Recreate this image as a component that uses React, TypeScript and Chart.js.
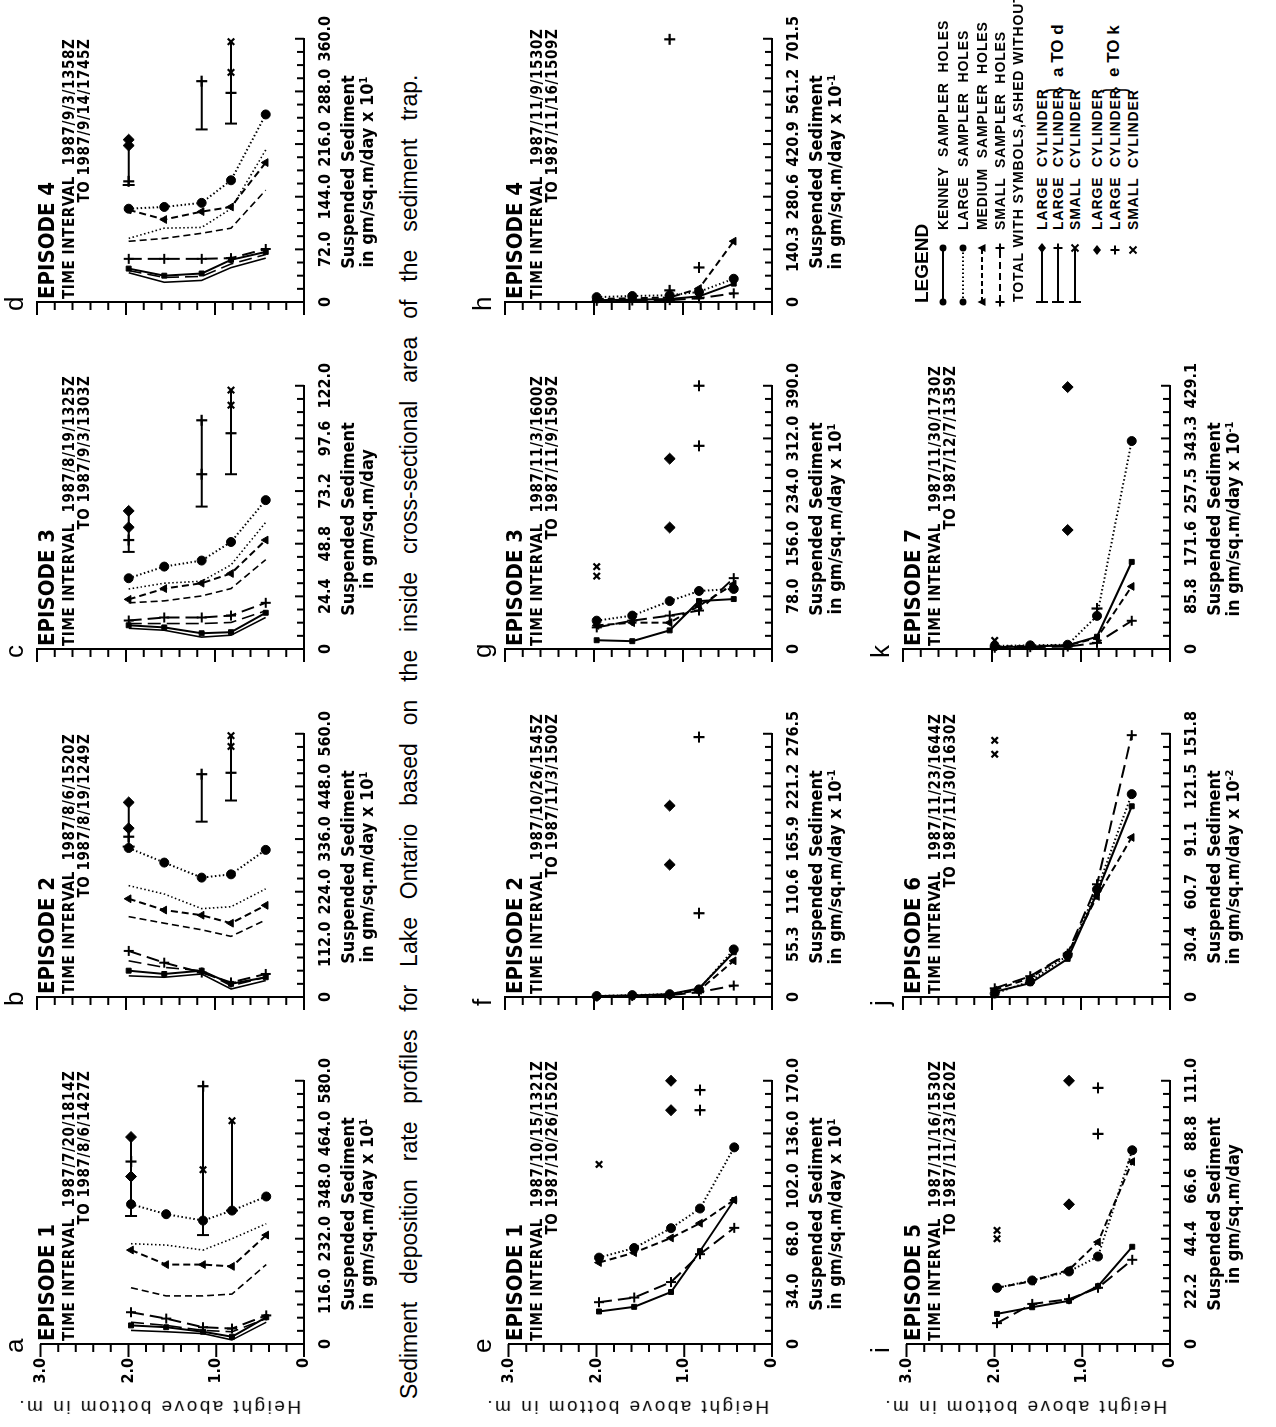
import React, { useEffect, useRef } from "react";
import { Chart, registerables } from "chart.js";
Chart.register(...registerables);

const NARROW = '"Liberation Sans Narrow", "Arial Narrow", "DejaVu Sans Condensed", "Liberation Sans", Arial, sans-serif';
const SANS = '"Liberation Sans", Arial, Helvetica, sans-serif';

// ---------- shared data ----------
const HEIGHTS = [1.97, 1.57, 1.15, 0.82, 0.43];
const HEIGHT_TICKS = [0, 1, 2, 3];
const HEIGHT_TICK_LABELS = ["0", "1.0", "2.0", "3.0"];

// ---------- panel a ----------
const aMax = 580;
const aTickLabels = ["0", "116.0", "232.0", "348.0", "464.0", "580.0"];
const aKenney = [41, 37, 27, 16, 59];
const aKenneyAshed = [30, 27, 23, 9, 48];
const aLarge = [308, 286, 272, 294, 325];
const aLargeAshed = [221, 218, 207, 232, 265];
const aMedium = [207, 175, 175, 171, 240];
const aMediumAshed = [124, 106, 106, 110, 175];
const aSmall = [70, 56, 37, 34, 63];
const aSmallAshed = [48, 41, 30, 27, 56];
const aBarH = [1.97, 1.15, 0.82];
const aBarLow = [282, 240, 294];
const aBarHigh = [456, 568, 492];
const aDiamondH = [1.97, 1.97];
const aDiamondV = [456, 369];
const aPlusH = [1.97, 1.15];
const aPlusV = [402, 568];
const aCrossH = [1.15, 0.82];
const aCrossV = [384, 492];

// ---------- panel b ----------
const bMax = 560;
const bTickLabels = ["0", "112.0", "224.0", "336.0", "448.0", "560.0"];
const bKenney = [56, 49, 56, 28, 42];
const bKenneyAshed = [45, 42, 49, 17, 35];
const bLarge = [317, 286, 254, 261, 313];
const bLargeAshed = [237, 219, 188, 192, 230];
const bMedium = [209, 185, 174, 157, 195];
const bMediumAshed = [171, 157, 143, 129, 164];
const bSmall = [98, 73, 52, 31, 49];
const bSmallAshed = [77, 63, 56, 24, 42];
const bBarH = [1.97, 1.15, 0.82];
const bBarLow = [320, 373, 418];
const bBarHigh = [414, 474, 556];
const bDiamondH = [1.97, 1.97];
const bDiamondV = [414, 359];
const bPlusH = [1.97, 1.15, 0.82];
const bPlusV = [341, 474, 477];
const bCrossH = [0.82, 0.82];
const bCrossV = [556, 533];

// ---------- panel c ----------
const cMax = 122;
const cTickLabels = ["0", "24.4", "48.8", "73.2", "97.6", "122.0"];
const cKenney = [11, 10, 7.3, 7.8, 16.8];
const cKenneyAshed = [9.6, 8.7, 5.5, 6.4, 14.6];
const cLarge = [32.8, 38.2, 41, 49.6, 69];
const cLargeAshed = [27.8, 30.5, 31.4, 39, 58.7];
const cMedium = [23, 28, 30.5, 35, 50.5];
const cMediumAshed = [21.4, 22.3, 24.6, 28, 41.4];
const cSmall = [13.2, 14.6, 14.6, 15.5, 21.4];
const cSmallAshed = [11.8, 11.8, 11.8, 12.3, 17.7];
const cBarH = [1.97, 1.15, 0.82];
const cBarLow = [45, 66, 81];
const cBarHigh = [64, 106, 120];
const cDiamondH = [1.97, 1.97];
const cDiamondV = [64, 56.4];
const cPlusH = [1.97, 1.15, 1.15, 0.82];
const cPlusV = [50.5, 106, 81, 100];
const cCrossH = [0.82, 0.82];
const cCrossV = [120, 113];

// ---------- panel d ----------
const dMax = 360;
const dTickLabels = ["0", "72.0", "144.0", "216.0", "288.0", "360.0"];
const dKenney = [45.7, 36, 39, 57.7, 68.5];
const dKenneyAshed = [40, 27, 29.5, 47, 60];
const dLarge = [127.6, 130, 135.6, 166.5, 256.5];
const dLargeAshed = [87, 101, 102, 127.6, 208];
const dMedium = [126, 112.8, 123.6, 130, 190.7];
const dMediumAshed = [83, 87, 94, 101, 153];
const dSmall = [59, 59, 59, 60, 72.5];
const dSmallAshed = [43, 33.6, 35, 52, 65];
const dBarH = [1.97, 1.15, 0.82];
const dBarLow = [160, 236, 244];
const dBarHigh = [222, 302, 356];
const dDiamondH = [1.97, 1.97];
const dDiamondV = [222, 214];
const dPlusH = [1.97, 1.15, 0.82];
const dPlusV = [165, 302, 286];
const dCrossH = [0.82, 0.82];
const dCrossV = [356, 314];

// ---------- panel e ----------
const eMax = 170;
const eTickLabels = ["0", "34.0", "68.0", "102.0", "136.0", "170.0"];
const eKenney = [21, 24, 33.6, 60, 93];
const eLarge = [55.8, 62, 74.8, 87.5, 127];
const eMedium = [52.6, 59, 68.5, 78, 93];
const eSmall = [27, 30, 40, 58, 75];
const eDiamondH = [1.15, 1.15];
const eDiamondV = [151, 170];
const ePlusH = [0.82, 0.82];
const ePlusV = [164, 151];
const eCrossH = [1.97];
const eCrossV = [116];

// ---------- panel f ----------
const fMax = 276.5;
const fTickLabels = ["0", "55.3", "110.6", "165.9", "221.2", "276.5"];
const fKenney = [1, 1.5, 3, 9, 47];
const fLarge = [1, 2, 3, 8, 50];
const fMedium = [1, 1.5, 2.5, 7, 38];
const fSmall = [0.5, 1, 2, 5, 12];
const fDiamondH = [1.15, 1.15];
const fDiamondV = [139, 201];
const fPlusH = [0.82, 0.82];
const fPlusV = [88, 273];
const fCrossH: number[] = [];
const fCrossV: number[] = [];

// ---------- panel g ----------
const gMax = 390;
const gTickLabels = ["0", "78.0", "156.0", "234.0", "312.0", "390.0"];
const gKenney = [13, 11.6, 27.6, 71, 74];
const gLarge = [42, 49.5, 71, 86, 89];
const gMedium = [35, 39, 39, 64, 96];
const gSmall = [32, 42, 49.5, 57, 105];
const gDiamondH = [1.15, 1.15];
const gDiamondV = [180, 282];
const gPlusH = [0.82, 0.82];
const gPlusV = [301, 390];
const gCrossH = [1.97, 1.97];
const gCrossV = [122, 108];

// ---------- panel h ----------
const hMax = 701.5;
const hTickLabels = ["0", "140.3", "280.6", "420.9", "561.2", "701.5"];
const hKenney = [5, 6, 8, 15, 49];
const hLarge = [13, 16, 18, 27, 62];
const hMedium = [8, 10, 12, 36, 162];
const hSmall = [3, 4, 5, 10, 23];
const hDiamondH: number[] = [];
const hDiamondV: number[] = [];
const hPlusH = [1.15, 1.15, 0.82];
const hPlusV = [700, 31, 92];
const hCrossH: number[] = [];
const hCrossV: number[] = [];

// ---------- panel i ----------
const iMax = 111;
const iTickLabels = ["0", "22.2", "44.4", "66.6", "88.8", "111.0"];
const iKenney = [12.7, 15.5, 18.2, 24.4, 41];
const iLarge = [23.7, 26.8, 30.6, 36.9, 81.7];
const iMedium = [23.7, 26.5, 31.3, 43, 76.9];
const iSmall = [8.8, 16.9, 18.9, 23.7, 35.5];
const iDiamondH = [1.15, 1.15];
const iDiamondV = [58.9, 111];
const iPlusH = [0.82, 0.82];
const iPlusV = [88.6, 108];
const iCrossH = [1.97, 1.97];
const iCrossV = [47.9, 44.4];

// ---------- panel j ----------
const jMax = 151.8;
const jTickLabels = ["0", "30.4", "60.7", "91.1", "121.5", "151.8"];
const jKenney = [3, 8, 22, 60, 110];
const jLarge = [2, 9, 24, 62, 117];
const jMedium = [4, 11, 25, 58, 92];
const jSmall = [5, 12, 25, 65, 151];
const jDiamondH: number[] = [];
const jDiamondV: number[] = [];
const jPlusH: number[] = [];
const jPlusV: number[] = [];
const jCrossH = [1.97, 1.97];
const jCrossV = [148, 140];

// ---------- panel k ----------
const kMax = 429.1;
const kTickLabels = ["0", "85.8", "171.6", "257.5", "343.3", "429.1"];
const kKenney = [3, 4, 6, 20, 142];
const kLarge = [5, 6, 7, 54, 339];
const kMedium = [4, 5, 6, 18, 102];
const kSmall = [2, 3, 4, 10, 46];
const kDiamondH = [1.15, 1.15];
const kDiamondV = [194, 427];
const kPlusH = [0.82];
const kPlusV = [66];
const kCrossH = [1.97];
const kCrossV = [14];

// ---------- layout (original landscape orientation) ----------
const ROW_X0 = [83, 430, 778, 1125];
const COL_Y0 = [37, 505, 903];
const PLOT_W = 268;
const PLOT_H = 267;
const AX_W = 70;
const AX_H = 80;
const PAD_T = 20;
const PAD_R = 30;
const CW = AX_W + PLOT_W + PAD_R;
const CH = PAD_T + PLOT_H + AX_H;

type Kind = "kenney" | "large" | "medium" | "small";
type Series = { kind: Kind; values: number[]; ashed?: boolean };
type Marks = { h: number[]; v: number[] };
type PanelCfg = {
  letter: string; episode: string; from: string; to: string; unit: string;
  max: number; tickLabels: string[]; col: number; row: number;
  lines: Series[];
  bars: { h: number[]; low: number[]; high: number[] } | null;
  diamonds: Marks; plus: Marks; cross: Marks;
};

const withAshed = (k: number[], ka: number[], l: number[], la: number[], m: number[], ma: number[], s: number[], sa: number[]): Series[] => [
  { kind: "large", values: l }, { kind: "large", values: la, ashed: true },
  { kind: "medium", values: m }, { kind: "medium", values: ma, ashed: true },
  { kind: "small", values: s }, { kind: "small", values: sa, ashed: true },
  { kind: "kenney", values: k }, { kind: "kenney", values: ka, ashed: true },
];
const totals = (k: number[], l: number[], m: number[], s: number[]): Series[] => [
  { kind: "large", values: l }, { kind: "medium", values: m },
  { kind: "small", values: s }, { kind: "kenney", values: k },
];

const PANELS: PanelCfg[] = [
  { letter: "a", episode: "EPISODE 1", from: "1987/7/20/1814Z", to: "1987/8/6/1427Z", unit: "1", max: aMax, tickLabels: aTickLabels, col: 0, row: 0,
    lines: withAshed(aKenney, aKenneyAshed, aLarge, aLargeAshed, aMedium, aMediumAshed, aSmall, aSmallAshed),
    bars: { h: aBarH, low: aBarLow, high: aBarHigh }, diamonds: { h: aDiamondH, v: aDiamondV }, plus: { h: aPlusH, v: aPlusV }, cross: { h: aCrossH, v: aCrossV } },
  { letter: "b", episode: "EPISODE 2", from: "1987/8/6/1520Z", to: "1987/8/19/1249Z", unit: "1", max: bMax, tickLabels: bTickLabels, col: 0, row: 1,
    lines: withAshed(bKenney, bKenneyAshed, bLarge, bLargeAshed, bMedium, bMediumAshed, bSmall, bSmallAshed),
    bars: { h: bBarH, low: bBarLow, high: bBarHigh }, diamonds: { h: bDiamondH, v: bDiamondV }, plus: { h: bPlusH, v: bPlusV }, cross: { h: bCrossH, v: bCrossV } },
  { letter: "c", episode: "EPISODE 3", from: "1987/8/19/1325Z", to: "1987/9/3/1303Z", unit: "", max: cMax, tickLabels: cTickLabels, col: 0, row: 2,
    lines: withAshed(cKenney, cKenneyAshed, cLarge, cLargeAshed, cMedium, cMediumAshed, cSmall, cSmallAshed),
    bars: { h: cBarH, low: cBarLow, high: cBarHigh }, diamonds: { h: cDiamondH, v: cDiamondV }, plus: { h: cPlusH, v: cPlusV }, cross: { h: cCrossH, v: cCrossV } },
  { letter: "d", episode: "EPISODE 4", from: "1987/9/3/1358Z", to: "1987/9/14/1745Z", unit: "1", max: dMax, tickLabels: dTickLabels, col: 0, row: 3,
    lines: withAshed(dKenney, dKenneyAshed, dLarge, dLargeAshed, dMedium, dMediumAshed, dSmall, dSmallAshed),
    bars: { h: dBarH, low: dBarLow, high: dBarHigh }, diamonds: { h: dDiamondH, v: dDiamondV }, plus: { h: dPlusH, v: dPlusV }, cross: { h: dCrossH, v: dCrossV } },
  { letter: "e", episode: "EPISODE 1", from: "1987/10/15/1321Z", to: "1987/10/26/1520Z", unit: "1", max: eMax, tickLabels: eTickLabels, col: 1, row: 0,
    lines: totals(eKenney, eLarge, eMedium, eSmall), bars: null,
    diamonds: { h: eDiamondH, v: eDiamondV }, plus: { h: ePlusH, v: ePlusV }, cross: { h: eCrossH, v: eCrossV } },
  { letter: "f", episode: "EPISODE 2", from: "1987/10/26/1545Z", to: "1987/11/3/1500Z", unit: "-1", max: fMax, tickLabels: fTickLabels, col: 1, row: 1,
    lines: totals(fKenney, fLarge, fMedium, fSmall), bars: null,
    diamonds: { h: fDiamondH, v: fDiamondV }, plus: { h: fPlusH, v: fPlusV }, cross: { h: fCrossH, v: fCrossV } },
  { letter: "g", episode: "EPISODE 3", from: "1987/11/3/1600Z", to: "1987/11/9/1509Z", unit: "1", max: gMax, tickLabels: gTickLabels, col: 1, row: 2,
    lines: totals(gKenney, gLarge, gMedium, gSmall), bars: null,
    diamonds: { h: gDiamondH, v: gDiamondV }, plus: { h: gPlusH, v: gPlusV }, cross: { h: gCrossH, v: gCrossV } },
  { letter: "h", episode: "EPISODE 4", from: "1987/11/9/1530Z", to: "1987/11/16/1509Z", unit: "-1", max: hMax, tickLabels: hTickLabels, col: 1, row: 3,
    lines: totals(hKenney, hLarge, hMedium, hSmall), bars: null,
    diamonds: { h: hDiamondH, v: hDiamondV }, plus: { h: hPlusH, v: hPlusV }, cross: { h: hCrossH, v: hCrossV } },
  { letter: "i", episode: "EPISODE 5", from: "1987/11/16/1530Z", to: "1987/11/23/1620Z", unit: "", max: iMax, tickLabels: iTickLabels, col: 2, row: 0,
    lines: totals(iKenney, iLarge, iMedium, iSmall), bars: null,
    diamonds: { h: iDiamondH, v: iDiamondV }, plus: { h: iPlusH, v: iPlusV }, cross: { h: iCrossH, v: iCrossV } },
  { letter: "j", episode: "EPISODE 6", from: "1987/11/23/1644Z", to: "1987/11/30/1630Z", unit: "-2", max: jMax, tickLabels: jTickLabels, col: 2, row: 1,
    lines: totals(jKenney, jLarge, jMedium, jSmall), bars: null,
    diamonds: { h: jDiamondH, v: jDiamondV }, plus: { h: jPlusH, v: jPlusV }, cross: { h: jCrossH, v: jCrossV } },
  { letter: "k", episode: "EPISODE 7", from: "1987/11/30/1730Z", to: "1987/12/7/1359Z", unit: "-1", max: kMax, tickLabels: kTickLabels, col: 2, row: 2,
    lines: totals(kKenney, kLarge, kMedium, kSmall), bars: null,
    diamonds: { h: kDiamondH, v: kDiamondV }, plus: { h: kPlusH, v: kPlusV }, cross: { h: kCrossH, v: kCrossV } },
];

const STYLE: Record<Kind, { dash: number[]; point: string; radius: number }> = {
  kenney: { dash: [], point: "rect", radius: 3.5 },
  large: { dash: [1.5, 2.5], point: "circle", radius: 4.5 },
  medium: { dash: [7, 4], point: "triangle", radius: 4.5 },
  small: { dash: [13, 6], point: "cross", radius: 5 },
};

const tickPlugin = {
  id: "handTicks",
  afterDraw(chart: any) {
    const { ctx, chartArea } = chart;
    const xs = chart.scales.x;
    const ys = chart.scales.y;
    ctx.save();
    ctx.strokeStyle = "#000";
    ctx.lineWidth = 2;
    ctx.beginPath();
    for (let i = 0; i <= 20; i++) {
      const px = xs.getPixelForValue((xs.max * i) / 20);
      const len = i % 4 === 0 ? 9 : 7;
      ctx.moveTo(px, chartArea.bottom);
      ctx.lineTo(px, chartArea.bottom - len);
    }
    for (let i = 0; i <= 15; i++) {
      const py = ys.getPixelForValue(i * 0.2);
      const len = i % 5 === 0 ? 13 : 8;
      ctx.moveTo(chartArea.left, py);
      ctx.lineTo(chartArea.left - len, py);
    }
    ctx.stroke();
    ctx.restore();
  },
};

function buildDatasets(cfg: PanelCfg) {
  const ds: any[] = [];
  for (const s of cfg.lines) {
    const st = STYLE[s.kind];
    ds.push({
      data: s.values.map((v, i) => ({ x: v, y: HEIGHTS[i] })),
      showLine: true,
      borderColor: "#000",
      backgroundColor: "#000",
      borderWidth: s.ashed ? 1.6 : 2,
      borderDash: st.dash,
      pointStyle: st.point,
      pointRadius: s.ashed ? 0 : st.radius,
      pointBorderWidth: s.kind === "small" ? 2 : 1,
      pointBackgroundColor: "#000",
      pointBorderColor: "#000",
      clip: false,
    });
  }
  if (cfg.bars) {
    cfg.bars.h.forEach((h, i) => {
      ds.push({
        data: [{ x: cfg.bars!.low[i], y: h }, { x: cfg.bars!.high[i], y: h }],
        showLine: true,
        borderColor: "#000",
        borderWidth: 2,
        pointStyle: "line",
        pointRotation: 90,
        pointRadius: [6, 0],
        pointBorderWidth: 2,
        pointBorderColor: "#000",
        clip: false,
      });
    });
  }
  const marks = (m: Marks, style: string, r: number, bw: number) => ({
    data: m.h.map((h, i) => ({ x: m.v[i], y: h })),
    showLine: false,
    pointStyle: style,
    pointRadius: r,
    pointBorderWidth: bw,
    pointBackgroundColor: "#000",
    pointBorderColor: "#000",
    clip: false,
  });
  ds.push(marks(cfg.diamonds, "rectRot", 5.5, 1));
  ds.push(marks(cfg.plus, "cross", 5.5, 2.2));
  ds.push(marks(cfg.cross, "crossRot", 4.5, 2.2));
  return ds;
}

function PanelChart({ cfg }: { cfg: PanelCfg }) {
  const ref = useRef<HTMLCanvasElement>(null);
  useEffect(() => {
    if (!ref.current) return;
    const chart = new Chart(ref.current, {
      type: "scatter",
      data: { datasets: buildDatasets(cfg) },
      options: {
        animation: false,
        responsive: false,
        devicePixelRatio: 1,
        events: [],
        layout: { padding: { top: PAD_T, right: PAD_R, left: 0, bottom: 0 } },
        plugins: { legend: { display: false }, tooltip: { enabled: false } },
        scales: {
          x: {
            type: "linear",
            position: "bottom",
            min: 0,
            max: cfg.max,
            afterFit: (s: any) => { s.height = AX_H; },
            afterBuildTicks: (s: any) => { s.ticks = cfg.tickLabels.map((_, i) => ({ value: (cfg.max * i) / 5 })); },
            ticks: {
              autoSkip: false, maxRotation: 0, minRotation: 0, padding: 12, color: "#000",
              font: { family: NARROW, size: 16, weight: "bold" },
              callback: (_v: any, i: number) => cfg.tickLabels[i],
            },
            grid: { display: false, drawTicks: false },
            border: { display: true, color: "#000", width: 2 },
          },
          y: {
            type: "linear",
            min: 0,
            max: 3,
            afterFit: (s: any) => { s.width = AX_W; },
            afterBuildTicks: (s: any) => { s.ticks = HEIGHT_TICKS.map((v) => ({ value: v })); },
            ticks: {
              display: cfg.row === 0,
              padding: 14, color: "#000",
              font: { family: NARROW, size: 16, weight: "bold" },
              callback: (_v: any, i: number) => HEIGHT_TICK_LABELS[i],
            },
            grid: { display: false, drawTicks: false },
            border: { display: true, color: "#000", width: 2 },
          },
        },
      } as any,
      plugins: [tickPlugin as any],
    });
    return () => chart.destroy();
  }, [cfg]);
  const x0 = ROW_X0[cfg.row];
  const y0 = COL_Y0[cfg.col];
  return (
    <>
      <canvas ref={ref} width={CW} height={CH}
        style={{ position: "absolute", left: x0 - AX_W, top: y0 - PAD_T, width: CW, height: CH }} />
      <div style={{ position: "absolute", left: x0 - 9, top: y0 - 38, font: `26px ${SANS}`, lineHeight: "30px" }}>{cfg.letter}</div>
      <div style={{ position: "absolute", left: x0 + 3, top: y0 - 1, font: `bold 22px ${NARROW}`, lineHeight: "22px", whiteSpace: "nowrap" }}>{cfg.episode}</div>
      <div style={{ position: "absolute", left: x0 + 3, top: y0 + 25, font: `bold 15px ${NARROW}`, letterSpacing: "0.6px", lineHeight: "15px", whiteSpace: "nowrap", textAlign: "right" }}>
        <div>TIME INTERVAL&nbsp;&nbsp;{cfg.from}</div>
        <div>TO&nbsp;{cfg.to}</div>
      </div>
      <div style={{ position: "absolute", left: x0 + 130 - 120, width: 240, top: y0 + PLOT_H + 34, font: `bold 18px ${NARROW}`, lineHeight: "19px", textAlign: "center", whiteSpace: "nowrap" }}>
        <div>Suspended Sediment</div>
        <div>in gm/sq.m/day{cfg.unit ? <> x 10<sup style={{ fontSize: 11, verticalAlign: "6px", lineHeight: 0 }}>{cfg.unit}</sup></> : null}</div>
      </div>
      {cfg.row === 0 ? (
        <div style={{ position: "absolute", left: 20, top: y0 + 122, transform: "translate(-50%, -50%) rotate(-90deg)", font: `19px ${SANS}`, letterSpacing: "2.5px", whiteSpace: "nowrap" }}>
          Height above bottom in m.
        </div>
      ) : null}
    </>
  );
}

function LegendSymbol({ kind }: { kind: string }) {
  const w = 62, h = 16, y = 8, x1 = 3, x2 = 57;
  const line = (dash?: string) => <line x1={x1} y1={y} x2={x2} y2={y} stroke="#000" strokeWidth={2} strokeDasharray={dash} />;
  const circle = (cx: number) => <circle cx={cx} cy={y} r={3.5} fill="#000" />;
  const tri = (cx: number) => <polygon points={`${cx - 4},${y + 3.5} ${cx + 4},${y + 3.5} ${cx},${y - 4.5}`} fill="#000" />;
  const plus = (cx: number) => <path d={`M${cx - 4.5} ${y}H${cx + 4.5}M${cx} ${y - 4.5}V${y + 4.5}`} stroke="#000" strokeWidth={2} />;
  const cross = (cx: number) => <path d={`M${cx - 3.5} ${y - 3.5}L${cx + 3.5} ${y + 3.5}M${cx + 3.5} ${y - 3.5}L${cx - 3.5} ${y + 3.5}`} stroke="#000" strokeWidth={2} />;
  const diamond = (cx: number) => <polygon points={`${cx - 5},${y} ${cx},${y - 4} ${cx + 5},${y} ${cx},${y + 4}`} fill="#000" />;
  const cap = <line x1={x1} y1={y - 6} x2={x1} y2={y + 6} stroke="#000" strokeWidth={2} />;
  let body: any = null;
  if (kind === "kenney") body = <>{line()}{circle(x1)}{circle(x2)}</>;
  if (kind === "large") body = <>{line("1.5 2.5")}{circle(x1)}{circle(x2)}</>;
  if (kind === "medium") body = <>{line("5 3")}{tri(x1)}{tri(x2)}</>;
  if (kind === "small") body = <>{line("7 4")}{plus(x1)}{plus(x2)}</>;
  if (kind === "barD") body = <>{line()}{cap}{diamond(x2)}</>;
  if (kind === "barP") body = <>{line()}{cap}{plus(x2)}</>;
  if (kind === "barX") body = <>{line()}{cap}{cross(x2)}</>;
  if (kind === "d") body = diamond(x2 - 2);
  if (kind === "p") body = plus(x2 - 2);
  if (kind === "x") body = cross(x2 - 2);
  return <svg width={w} height={h} style={{ position: "absolute", left: 0, top: -8, overflow: "visible" }}>{body}</svg>;
}

const LEGEND_ROWS = [
  { y: 943, kind: "kenney", text: "KENNEY  SAMPLER  HOLES" },
  { y: 963, kind: "large", text: "LARGE  SAMPLER  HOLES" },
  { y: 982, kind: "medium", text: "MEDIUM  SAMPLER  HOLES" },
  { y: 1000, kind: "small", text: "SMALL  SAMPLER  HOLES" },
  { y: 1042, kind: "barD", text: "LARGE  CYLINDER" },
  { y: 1058, kind: "barP", text: "LARGE  CYLINDER" },
  { y: 1075, kind: "barX", text: "SMALL  CYLINDER" },
  { y: 1097, kind: "d", text: "LARGE  CYLINDER" },
  { y: 1115, kind: "p", text: "LARGE  CYLINDER" },
  { y: 1133, kind: "x", text: "SMALL  CYLINDER" },
];

function Legend() {
  const lx = 1122;
  const tx = 1197;
  const txt = { font: `bold 14px ${SANS}`, letterSpacing: "0.9px", whiteSpace: "pre" as const, lineHeight: "16px" };
  return (
    <>
      <div style={{ position: "absolute", left: 1124, top: 911, font: `bold 19px ${SANS}`, lineHeight: "22px" }}>LEGEND</div>
      {LEGEND_ROWS.map((r, i) => (
        <React.Fragment key={i}>
          <div style={{ position: "absolute", left: lx, top: r.y }}><LegendSymbol kind={r.kind} /></div>
          <div style={{ position: "absolute", left: tx, top: r.y - 8, ...txt }}>{r.text}</div>
        </React.Fragment>
      ))}
      <div style={{ position: "absolute", left: 1125, top: 1010, ...txt }}>TOTAL WITH SYMBOLS,ASHED WITHOUT</div>
      <div style={{ position: "absolute", left: 1332, top: 1034, font: `30px ${SANS}`, lineHeight: "48px", transform: "scaleX(0.6)" }}>{"}"}</div>
      <div style={{ position: "absolute", left: 1350, top: 1048, font: `bold 17px ${SANS}`, whiteSpace: "nowrap" }}>a TO d</div>
      <div style={{ position: "absolute", left: 1332, top: 1090, font: `30px ${SANS}`, lineHeight: "48px", transform: "scaleX(0.6)" }}>{"}"}</div>
      <div style={{ position: "absolute", left: 1350, top: 1104, font: `bold 17px ${SANS}`, whiteSpace: "nowrap" }}>e TO k</div>
    </>
  );
}

export default function App() {
  useEffect(() => {
    document.body.style.margin = "0";
    document.body.style.background = "#fff";
  }, []);
  return (
    <div style={{ position: "absolute", left: 0, top: 0, width: 1276, height: 1427, overflow: "hidden", background: "#fff" }}>
      <div style={{ position: "absolute", left: 0, top: 0, width: 1427, height: 1276, transformOrigin: "0 0", transform: "translate(0px, 1427px) rotate(-90deg)", background: "#fff", color: "#000" }}>
        {PANELS.map((p) => <PanelChart key={p.letter} cfg={p} />)}
        <div style={{ position: "absolute", left: 28, top: 396, font: `23px ${SANS}`, wordSpacing: "11.5px", whiteSpace: "nowrap" }}>
          Sediment deposition rate profiles for Lake Ontario based on the inside cross-sectional area of the sediment trap.
        </div>
        <Legend />
      </div>
    </div>
  );
}
